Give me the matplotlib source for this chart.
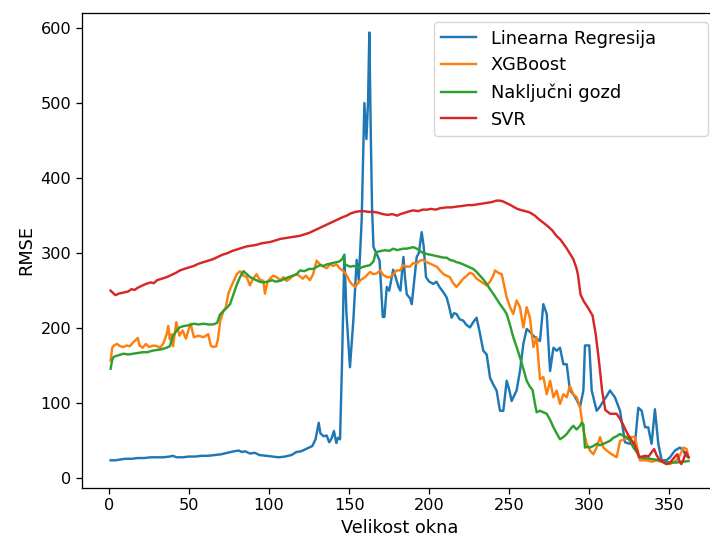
import matplotlib.pyplot as plt

# Velikost okna / RMSE, odčitano s slike (x, y za vsak model posebej)
lr_x = [1, 4, 7, 10, 14, 18, 22, 26, 30, 34, 38, 40, 42, 46, 50, 54, 58, 62, 66, 70,
        74, 78, 81, 83, 85, 88, 91, 94, 98, 102, 106, 110, 114, 117, 120, 123, 125, 127, 129, 131,
        132, 134, 136, 137.5, 139, 140.5, 142, 143, 144.3, 145.5, 147, 148.3, 150.5, 152.6, 154.7, 156, 157.8, 159.5, 160.8, 161.8,
        162.6, 163.5, 164.3, 165.2, 167, 169, 171, 172, 173.5, 175, 177.5, 179, 180.8, 182, 183.9, 185, 186, 188, 189.1, 190.5,
        192.2, 193.5, 195.3, 196.5, 198, 200, 202.6, 204.5, 206.7, 208.8, 210.9, 212.5, 214, 215.5, 217, 219, 221.3, 223, 225.4, 227.5,
        229.6, 231.5, 233.8, 235.9, 238, 240, 242.1, 244.2, 246.3, 248.4, 250, 251.5, 253, 254.6, 256.7, 258.8, 260.9, 263, 265, 267.1,
        269.2, 271.3, 273.4, 275.5, 277.6, 279.6, 281.7, 283.8, 285.9, 287.9, 290, 292, 294.2, 296.3, 297.3, 300, 301.5, 304.6, 306.5, 308.8,
        311, 312.9, 316, 319.2, 322.3, 325.4, 328.5, 330.6, 332.7, 334.8, 336.8, 338.9, 341, 343.1, 345.2, 348.3, 350.4, 353.5, 356.6, 358.7,
        360.5, 362]
lr_y = [24, 24, 25, 26, 26, 27, 27, 28, 28, 28, 29, 30, 28, 28, 29, 29, 30, 30, 31, 32,
        34, 36, 37, 35, 36, 33, 34, 31, 30, 29, 28, 29, 31, 35, 36, 39, 41, 43, 52, 74,
        60, 56, 57, 48, 53, 63, 47, 54, 52, 150, 298, 220, 148, 210, 291, 264, 343, 500, 452, 502,
        594, 460, 360, 308, 300, 290, 215, 215, 255, 250, 278, 268, 255, 250, 295, 265, 245, 240, 232, 260,
        295, 300, 328, 310, 268, 262, 259, 262, 254, 248, 241, 228, 214, 220, 219, 212, 210, 205, 201, 208,
        214, 195, 170, 165, 134, 125, 117, 90, 90, 130, 118, 103, 110, 117, 143, 179, 199, 195, 190, 186,
        183, 232, 219, 143, 174, 170, 174, 152, 152, 117, 112, 105, 95, 117, 177, 177, 117, 90, 95, 103,
        110, 117, 108, 90, 48, 46, 46, 94, 90, 68, 68, 46, 92, 46, 24, 24, 28, 37, 41, 37,
        30, 28]

xgb_x = [1, 2, 3, 5, 7, 9, 11, 13, 15, 18, 19, 21, 23, 25, 28, 30, 32, 34, 36, 37,
         38, 39, 40, 42, 44, 46, 48, 50, 51, 53, 56, 59, 62, 63.5, 65, 67, 68, 69.5, 71.5, 73,
         74.5, 76, 77.7, 79.8, 81.8, 84, 86, 88, 90, 92.2, 94, 96.4, 97.4, 99, 100.5, 102.5, 104.7, 107, 109, 110.9,
         113, 115, 117.2, 119.3, 121, 123, 125.5, 127.5, 129.7, 131.8, 133.9, 136, 138, 140, 142.2, 144, 146.4, 148, 150.5, 152,
         153.7, 155.5, 157, 159.9, 163, 165.1, 167.2, 169.3, 171.3, 173.5, 175.5, 177.6, 179.6, 181.8, 183.8, 186, 188, 190, 192.2, 194.2,
         196.3, 198.4, 200.5, 202.6, 204.7, 206.7, 209, 210.9, 212.9, 215, 217.1, 219, 221.3, 223.5, 225.5, 227.5, 229.6, 231.7, 233.8, 235.9,
         238, 240, 241.1, 243, 245.3, 247, 248.4, 250.5, 252.5, 254.6, 256.7, 258.8, 260.9, 262.9, 265.1, 267.1, 269.2, 271.3, 273.4, 275.5,
         277.6, 279.6, 281.7, 283.8, 285.9, 287.9, 290, 292.1, 294.2, 296.3, 298.4, 300.4, 302.5, 304.6, 306.7, 308.8, 310.9, 314, 317.1, 319.2,
         322.3, 325.4, 328.5, 331.6, 335.8, 339, 342, 346.2, 350.4, 354.5, 356.5, 358.7, 360.8, 362]
xgb_y = [157, 174, 177, 179, 176, 175, 177, 176, 181, 187, 177, 174, 179, 175, 177, 176, 174, 180, 192, 203,
         185, 192, 176, 208, 190, 197, 186, 200, 206, 188, 190, 188, 192, 177, 175, 176, 185, 210, 223, 228,
         246, 254, 262, 272, 276, 270, 268, 257, 266, 272, 265, 263, 246, 262, 266, 270, 268, 264, 268, 263,
         266, 270, 272, 269, 266, 270, 264, 272, 290, 285, 282, 280, 285, 283, 285, 280, 276, 272, 262, 258,
         255, 260, 264, 268, 275, 272, 273, 277, 271, 268, 268, 272, 277, 277, 284, 282, 282, 287, 286, 290,
         291, 288, 286, 284, 282, 277, 272, 270, 268, 260, 255, 260, 266, 270, 274, 272, 266, 263, 260, 257,
         262, 270, 277, 274, 272, 255, 241, 228, 219, 237, 228, 201, 228, 214, 175, 188, 132, 135, 112, 130,
         108, 117, 99, 112, 108, 123, 112, 108, 95, 64, 46, 37, 32, 41, 55, 41, 37, 32, 28, 50,
         52, 55, 55, 24, 24, 22, 24, 21, 19, 24, 30, 41, 39, 28]

rf_x = [1, 2, 3, 6, 9, 12, 15, 18, 21, 24, 27, 30, 33, 36, 38, 40, 42, 44, 47, 50,
        53, 56, 59, 62, 65, 67.5, 69.3, 71, 73, 75.6, 77.7, 79.8, 81.8, 84, 86, 88.1, 90, 92, 94, 96.4,
        99, 102, 104, 106.8, 109, 112, 115, 117.2, 119.3, 122, 125, 127.6, 130, 131.8, 134, 136, 138, 140, 142, 144,
        145.6, 146.5, 147.5, 150.5, 153, 156.8, 159, 161, 163, 165.2, 166.5, 168, 170, 172.3, 175, 177.6, 180, 181.8, 184, 186,
        188, 190.1, 192.2, 194.2, 196.3, 198.4, 200.5, 202.6, 204.7, 206.8, 209, 210.9, 213, 215, 217, 219, 221.3, 223.4, 225.4, 227.5,
        229.6, 231.7, 233.8, 235.9, 238, 240, 242.1, 244.2, 246.3, 248.4, 250.5, 252.5, 254.6, 256.7, 258.8, 260.9, 262.9, 264.5, 266.1, 267.1,
        269.2, 271.3, 273.4, 275.5, 277.6, 279.6, 281.7, 283.8, 285.9, 287.9, 290, 292.1, 294.2, 295.2, 296.3, 297.3, 299, 300.4, 302.5, 304.6,
        306.7, 308.8, 310.9, 313, 315, 317, 319.2, 321, 323.3, 325.4, 327.5, 329.6, 331.6, 334, 337.9, 341, 344.1, 347, 350.4, 354.5,
        358, 362]
rf_y = [146, 158, 162, 164, 166, 165, 166, 167, 168, 168, 170, 171, 172, 174, 176, 190, 196, 201, 203, 204,
        206, 205, 206, 205, 205, 207, 218, 222, 226, 232, 245, 258, 268, 276, 272, 268, 266, 264, 262, 261,
        262, 264, 262, 263, 265, 268, 270, 272, 277, 276, 279, 279, 282, 284, 283, 285, 286, 287, 288, 289,
        292, 296, 285, 282, 283, 280, 282, 283, 284, 289, 300, 302, 303, 304, 303, 306, 304, 305, 306, 306,
        307, 308, 306, 303, 300, 299, 298, 297, 296, 295, 294, 294, 291, 290, 288, 287, 285, 283, 281, 279,
        275, 270, 265, 259, 252, 246, 239, 232, 226, 219, 204, 188, 175, 161, 146, 130, 122, 118, 99, 88,
        90, 88, 86, 78, 68, 60, 52, 55, 59, 65, 70, 65, 70, 74, 72, 41, 42, 41, 43, 46,
        44, 46, 48, 50, 54, 56, 59, 57, 55, 50, 41, 35, 28, 27, 26, 25, 24, 22, 21, 21,
        22, 23]

svr_x = [1, 2, 3, 4, 6, 8, 10, 12, 14, 16, 18, 20, 23, 26, 28, 30, 33, 36, 39, 42,
         44.3, 47, 50, 53, 56, 59, 62, 65, 68, 71, 74, 77, 80, 83, 86, 89, 92, 95, 98, 101,
         104, 107, 110, 113, 116, 119, 122, 125, 128, 131, 134, 137, 140, 143, 146, 148.5, 151, 154, 157, 159,
         162, 165, 168, 171, 174, 177, 180, 182, 185, 188, 190, 193, 196, 199, 201, 204, 207, 211, 214, 217,
         221, 224, 227, 230, 233, 236, 239, 242, 244, 246, 248, 250, 252.5, 255, 258, 260, 263, 266, 268, 271,
         274, 277, 279.5, 282, 284, 286, 288, 290, 292, 293, 294.5, 296.5, 299, 302, 304, 306, 308, 310, 313, 317,
         319, 321, 323, 325, 328, 330, 331, 333, 335, 337, 339, 340.5, 342, 344, 346, 348, 350, 352, 354, 355,
         356.5, 357.5, 359, 360.3, 362]
svr_y = [250, 248, 246, 244, 246, 247, 248, 249, 252, 251, 254, 256, 259, 261, 260, 264, 266, 268, 271, 274,
         277, 279, 281, 283, 286, 288, 290, 292, 295, 298, 300, 303, 305, 307, 309, 310, 311, 313, 314, 315,
         317, 319, 320, 321, 322, 323, 325, 327, 330, 333, 336, 339, 342, 345, 348, 350, 353, 355, 356, 356,
         355, 355, 354, 352, 351, 352, 350, 352, 354, 356, 357, 356, 358, 358, 359, 358, 360, 361, 361, 362,
         363, 364, 364, 365, 366, 367, 368, 370, 370, 369, 367, 365, 362, 359, 357, 356, 354, 350, 346, 341,
         336, 330, 323, 318, 312, 306, 299, 292, 280, 270, 245, 236, 228, 217, 192, 157, 117, 91, 86, 86,
         80, 72, 63, 55, 46, 36, 28, 29, 30, 29, 35, 39, 31, 24, 22, 19, 20, 25, 30, 32,
         22, 19, 26, 35, 28]

labels = ['Linearna Regresija', 'XGBoost', 'Naključni gozd', 'SVR']

s = 1.16  # original je bil shranjen pri ~116 dpi

fig = plt.figure(figsize=(7.1, 5.46), dpi=100)
# os sega čez desni rob slike, kot na izvirniku
ax = fig.add_axes([0.1151, 0.1068, 0.8954, 0.8694])

ax.plot(lr_x, lr_y, color='C0', lw=1.5 * s, label=labels[0])
ax.plot(xgb_x, xgb_y, color='C1', lw=1.5 * s, label=labels[1])
ax.plot(rf_x, rf_y, color='C2', lw=1.5 * s, label=labels[2])
ax.plot(svr_x, svr_y, color='C3', lw=1.5 * s, label=labels[3])

ax.set_xlim(-17.05, 380.05)
ax.set_ylim(-12.5, 620)
ax.set_xlabel('Velikost okna', fontsize=11 * s)
ax.set_ylabel('RMSE', fontsize=11 * s)
ax.tick_params(labelsize=10 * s, width=0.8 * s, length=3.5 * s)
for sp in ax.spines.values():
    sp.set_linewidth(0.8 * s)

# legenda je na izvirniku širša od besedila -> razširimo okvir
ax.legend(loc='upper right', fontsize=11 * s, mode='expand', borderaxespad=0,
          bbox_to_anchor=(0.554, 0.0, 0.431, 0.980))

fig.savefig('out.png', dpi=100)
